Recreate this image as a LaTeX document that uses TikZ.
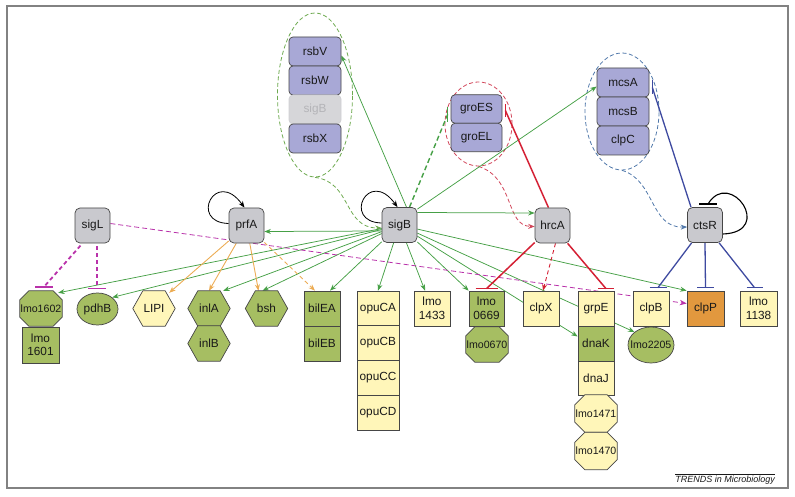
\documentclass[tikz,border=0pt]{standalone}
\usepackage{fontspec}
\setmainfont{Liberation Sans}
\usetikzlibrary{shapes.geometric,arrows.meta,calc}
\pgfdeclarelayer{bg}
\pgfsetlayers{bg,main}
\definecolor{cgray}{RGB}{201,201,206}
\definecolor{clav}{RGB}{168,168,214}
\definecolor{cgreen}{RGB}{166,190,98}
\definecolor{cyel}{RGB}{255,246,185}
\definecolor{corange}{RGB}{226,152,62}
\definecolor{cborder}{RGB}{70,70,70}
\definecolor{txt}{RGB}{25,25,25}
\definecolor{ghostfill}{RGB}{214,214,217}
\definecolor{ghostdraw}{RGB}{206,206,210}
\definecolor{ghosttext}{RGB}{180,180,184}
\definecolor{egreen}{RGB}{70,160,70}
\definecolor{eorange}{RGB}{236,172,84}
\definecolor{ered}{RGB}{212,32,52}
\definecolor{eblue}{RGB}{62,74,160}
\definecolor{epurple}{RGB}{185,50,170}
\definecolor{dgreen}{RGB}{110,170,80}
\definecolor{dred}{RGB}{210,70,90}
\definecolor{dblue}{RGB}{80,120,170}
\definecolor{framec}{RGB}{130,130,130}
\tikzset{
  lbl/.style={font=\fontsize{11.8}{13.5}\selectfont, text=txt, align=center, inner sep=0pt},
  small/.style={lbl, font=\fontsize{10.6}{12}\selectfont},
  base/.style={lbl, draw=cborder, line width=0.7pt},
  reg/.style={base, rectangle, fill=cgray, rounded corners=5pt, minimum width=35pt, minimum height=35pt},
  stk/.style={base, rectangle, fill=clav, rounded corners=4pt, minimum width=52pt, minimum height=29pt},
  ghost/.style={stk, fill=ghostfill, draw=ghostdraw, text=ghosttext},
  sqr/.style={base, rectangle, minimum width=36pt, minimum height=35pt},
  gsq/.style={sqr, fill=cgreen},
  ysq/.style={sqr, fill=cyel},
  osq/.style={sqr, fill=corange},
  ovl/.style={draw=cborder, line width=0.7pt, ellipse, fill=cgreen, inner sep=0pt},
  holder/.style={rectangle, inner sep=0pt, draw=none},
  shp/.style={draw=cborder, line width=0.7pt},
  frame/.style={draw=framec, line width=1.5pt},
  gact/.style={draw=egreen, line width=0.75pt, -{Stealth[length=6.5pt,width=5pt]}},
  oact/.style={draw=eorange, line width=0.9pt, -{Stealth[length=6.5pt,width=5pt]}},
  odash/.style={oact, dash pattern=on 4pt off 3pt},
  gdash/.style={draw=egreen, line width=1.4pt, dash pattern=on 5pt off 3pt},
  gbar/.style={draw=egreen, line width=1.4pt},
  pinh/.style={draw=epurple, line width=1.8pt, dash pattern=on 4pt off 3pt, shorten <=3pt},
  pbar/.style={draw=epurple, line width=1.4pt},
  pthin/.style={draw=epurple, line width=0.8pt, dash pattern=on 5pt off 3pt, -{Stealth[length=7pt,width=5.5pt]}},
  rinh/.style={draw=ered, line width=1.5pt},
  rbar/.style={draw=ered, line width=1.4pt},
  rdash/.style={draw=ered, line width=0.9pt, dash pattern=on 4pt off 3pt, -{Stealth[length=6.5pt,width=5pt]}},
  binh/.style={draw=eblue, line width=1.3pt},
  bbar/.style={draw=eblue, line width=1.3pt},
  loopa/.style={draw=black, line width=0.8pt, -{Stealth[length=6.5pt,width=5pt]}},
  loopl/.style={draw=black, line width=1.1pt},
  kbar/.style={draw=black, line width=1.3pt},
  grpell/.style={ellipse, draw, line width=0.8pt, dash pattern=on 4pt off 2.5pt, inner sep=0pt},
  dcurve/.style={line width=0.8pt, dash pattern=on 4pt off 2.5pt, -{Stealth[length=6.5pt,width=5pt]}},
}
\newcommand{\octnode}[8]{%
  \node[holder, minimum width=#4pt, minimum height=#5pt] (#1) at (#2,#3) {};
  \draw[shp, fill=#7] ([xshift=#6pt]#1.north west) -- ([xshift=-#6pt]#1.north east) -- ([yshift=-#6pt]#1.north east) -- ([yshift=#6pt]#1.south east) -- ([xshift=-#6pt]#1.south east) -- ([xshift=#6pt]#1.south west) -- ([yshift=#6pt]#1.south west) -- ([yshift=-#6pt]#1.north west) -- cycle;
  \node[small] at (#1) {#8};
}
\newcommand{\hexnode}[8]{%
  \node[holder, minimum width=#4pt, minimum height=#5pt] (#1) at (#2,#3) {};
  \draw[shp, fill=#7] ([xshift=#6pt]#1.north west) -- ([xshift=-#6pt]#1.north east) -- (#1.east) -- ([xshift=-#6pt]#1.south east) -- ([xshift=#6pt]#1.south west) -- (#1.west) -- cycle;
  \node[lbl] at (#1) {#8};
}
\begin{document}
\begin{tikzpicture}[x=1pt,y=-1pt]
\useasboundingbox (0,0) rectangle (795,497);
\draw[frame] (7,6) rectangle (788,488);

% regulators
\node[reg] (sigL) at (92.5,225.5) {sigL};
\node[reg] (prfA) at (246.5,225.5) {prfA};
\node[reg] (sigB) at (399.5,225) {sigB};
\node[reg] (hrcA) at (552.5,225.5) {hrcA};
\node[reg] (ctsR) at (705,225) {ctsR};

% upper complexes
\node[stk] (rsbV) at (315,51.5) {rsbV};
\node[stk] (rsbW) at (315,80.5) {rsbW};
\node[ghost] (sigBg) at (315,109.5) {sigB};
\node[stk] (rsbX) at (315,138.5) {rsbX};
\node[stk, minimum width=51pt, minimum height=28.5pt] (groES) at (476.5,109) {groES};
\node[stk, minimum width=51pt, minimum height=28.5pt] (groEL) at (476.5,137.5) {groEL};
\node[stk] (mcsA) at (623,82.5) {mcsA};
\node[stk] (mcsB) at (623,111.5) {mcsB};
\node[stk] (clpC) at (623,140.5) {clpC};

% target genes
\octnode{lmo1602}{41}{308.5}{42}{35}{9}{cgreen}{lmo1602}
\node[gsq, minimum width=37pt, minimum height=36pt] (lmo1601) at (40.5,345) {lmo\\1601};
\node[ovl, minimum width=41pt, minimum height=32pt] (pdhB) at (97.5,309) {};
\node[lbl] at (pdhB) {pdhB};
\hexnode{LIPI}{154}{308.5}{42}{35}{10}{cyel}{LIPI}
\hexnode{inlA}{209}{308.5}{42}{35}{10}{cgreen}{inlA}
\hexnode{inlB}{209}{343.5}{42}{35}{10}{cgreen}{inlB}
\hexnode{bsh}{266.5}{308.5}{42}{35}{10}{cgreen}{bsh}
\node[gsq] (bilEA) at (322,308.5) {bilEA};
\node[gsq] (bilEB) at (322,343.5) {bilEB};
\node[ysq, minimum width=42pt, minimum height=34.75pt] (opuCA) at (378,308.4) {opuCA};
\node[ysq, minimum width=42pt, minimum height=34.75pt] (opuCB) at (378,343.1) {opuCB};
\node[ysq, minimum width=42pt, minimum height=34.75pt] (opuCC) at (378,377.9) {opuCC};
\node[ysq, minimum width=42pt, minimum height=34.75pt] (opuCD) at (378,412.6) {opuCD};
\node[ysq] (lmo1433) at (432,308.5) {lmo\\1433};
\node[gsq, minimum width=35pt] (lmo0669) at (486.5,308.5) {lmo\\0669};
\octnode{lmo0670}{487}{344.5}{42}{35}{9}{cgreen}{lmo0670}
\node[ysq] (clpX) at (541,308.5) {clpX};
\node[ysq] (grpE) at (596,308.5) {grpE};
\node[gsq] (dnaK) at (596,343.5) {dnaK};
\node[ysq, minimum height=34pt] (dnaJ) at (596,378) {dnaJ};
\octnode{lmo1471}{596}{413.5}{42}{37}{10}{cyel}{lmo1471}
\octnode{lmo1470}{596}{451}{42}{37}{10}{cyel}{lmo1470}
\node[ysq] (clpB) at (651,308.5) {clpB};
\node[ovl, minimum width=46pt, minimum height=36pt] (lmo2205) at (651,345) {};
\node[small] at (lmo2205) {lmo2205};
\node[osq, minimum width=37pt] (clpP) at (705.5,308.5) {clpP};
\node[ysq, minimum width=37pt] (lmo1138) at (758.5,308.5) {lmo\\1138};

\node[font=\fontsize{9}{10}\selectfont\itshape, text=txt, inner sep=0pt, anchor=base east] (trends) at (775,482) {TRENDS in Microbiology};
\draw[draw=txt, line width=0.5pt] ([yshift=1.5pt]trends.north west) -- ([yshift=1.5pt]trends.north east);

\begin{pgfonlayer}{bg}
% complex outlines
\node[grpell, draw=dgreen, minimum width=75pt, minimum height=164pt] (rsbgrp) at (315,95) {};
\node[grpell, draw=dred, minimum width=67pt, minimum height=84pt] (grogrp) at (478.5,124) {};
\node[grpell, draw=dblue, minimum width=74pt, minimum height=117pt] (mcsgrp) at (622,111.5) {};
\draw[dcurve, draw=dgreen] (rsbgrp.south) .. controls (352,182) and (343,228) .. ([yshift=-3pt]sigB.west);
\draw[dcurve, draw=dred] (grogrp.south) .. controls (515,178) and (505,226) .. ([yshift=-1pt]hrcA.west);
\draw[dcurve, draw=dblue] (mcsgrp.south) .. controls (655,180) and (650,228) .. ([yshift=-2pt]ctsR.west);

% self loops
\draw[loopa] ([yshift=2pt]prfA.west) .. controls ($(prfA)+(-58,-3)$) and ($(prfA)+(-31,-58)$) .. ([xshift=-2pt]prfA.north);
\draw[loopa] ([yshift=2pt]sigB.west) .. controls ($(sigB)+(-58,-3)$) and ($(sigB)+(-31,-58)$) .. ([xshift=-2pt]sigB.north);
\coordinate (ctsRt) at ($(ctsR)+(3,-21)$);
\draw[loopl] ($(ctsR)+(18,9)$) .. controls ($(ctsR)+(70,7)$) and ($(ctsR)+(25,-57)$) .. (ctsRt);
\draw[kbar] ($(ctsRt)+(-9,0)$) -- ($(ctsRt)+(9,0)$);

% sigB activations
\draw[gact] ([yshift=-6pt]sigB.west) -- ([yshift=-6pt]prfA.east);
\draw[gact] ([yshift=12.5pt]sigB.east) -- ([yshift=12.5pt]hrcA.west);
\draw[gact] ([yshift=-2pt]sigB.north east) -- ([yshift=-4pt]mcsA.west);
\draw[gact] ([xshift=7pt]sigB.north) -- ([yshift=-4pt]rsbV.east);
\draw[gact] (sigB) -- ([xshift=-4pt,yshift=-2pt]lmo1602.north east);
\draw[gact] (sigB) -- (pdhB.north east);
\draw[gact] (sigB) -- ([xshift=-7pt]inlA.north east);
\draw[gact] (sigB) -- ([xshift=-4pt]bsh.north);
\draw[gact] (sigB) -- ([xshift=8pt]bilEA.north);
\draw[gact] (sigB) -- (opuCA.north);
\draw[gact] (sigB) -- ([xshift=-7pt]lmo1433.north);
\draw[gact] (sigB) -- (lmo0669.north west);
\draw[gact] (sigB) -- ([yshift=7pt]dnaK.west);
\draw[gact] (sigB) -- (lmo2205.north west);
\draw[gact] (sigB) -- (clpP.north west);
\coordinate (gesL) at ([xshift=-3pt,yshift=-5.5pt]groES.west);
\draw[gdash] ([xshift=10pt]sigB.north) -- (gesL);
\draw[gbar] ([yshift=7.5pt]gesL) -- ([yshift=-7.5pt]gesL);

% sigL
\coordinate (l1602t) at ([xshift=3pt,yshift=4pt]lmo1602.north);
\draw[pinh] ([xshift=-10pt]sigL.south) -- (l1602t);
\draw[pbar] ([xshift=-9pt]l1602t) -- ([xshift=9pt]l1602t);
\coordinate (pdhBt) at ([xshift=-0.5pt,yshift=4pt]pdhB.north);
\draw[pinh] (sigL.south -| pdhBt) -- (pdhBt);
\draw[pbar] ([xshift=-9pt]pdhBt) -- ([xshift=9pt]pdhBt);
\draw[pthin] ([yshift=2pt]sigL.east) -- ([yshift=5pt]clpP.west);

% prfA
\draw[oact] (prfA) -- ([xshift=-6pt,yshift=-2pt]LIPI.north east);
\draw[oact] (prfA) -- (inlA.north);
\draw[oact] (prfA) -- ([xshift=-8pt]bsh.north);
\draw[odash] (prfA) -- ([xshift=-7pt]bilEA.north);

% hrcA
\coordinate (groESr) at ([xshift=3pt,yshift=-1.5pt]groES.east);
\draw[rinh] ([xshift=-4pt]hrcA.north) -- (groESr);
\draw[rbar] ([yshift=6.5pt]groESr) -- ([yshift=-6.5pt]groESr);
\coordinate (l0669t) at ([yshift=2pt]lmo0669.north);
\draw[rinh] (hrcA) -- (l0669t);
\draw[rbar] ([xshift=-11pt]l0669t) -- ([xshift=11pt]l0669t);
\coordinate (grpEt) at ([xshift=10pt,yshift=2pt]grpE.north);
\draw[rinh] (hrcA) -- (grpEt);
\draw[rbar] ([xshift=-8pt]grpEt) -- ([xshift=8pt]grpEt);
\draw[rdash] ([xshift=3pt]hrcA.south) -- ([xshift=2pt]clpX.north);

% ctsR
\coordinate (mcsAr) at ([xshift=3pt,yshift=-5pt]mcsA.east);
\draw[binh] ([xshift=-14pt]ctsR.north) -- (mcsAr);
\draw[bbar] ([yshift=7pt]mcsAr) -- ([yshift=-7pt]mcsAr);
\coordinate (clpBt) at ([xshift=7pt,yshift=3pt]clpB.north);
\draw[binh] (ctsR) -- (clpBt);
\draw[bbar] ([xshift=-8.5pt]clpBt) -- ([xshift=8.5pt]clpBt);
\coordinate (clpPt) at ([yshift=3pt]clpP.north);
\draw[binh] (ctsR.south) -- (clpPt);
\draw[bbar] ([xshift=-8.5pt]clpPt) -- ([xshift=8.5pt]clpPt);
\coordinate (l1138t) at ([xshift=-4pt,yshift=3pt]lmo1138.north);
\draw[binh] (ctsR) -- (l1138t);
\draw[bbar] ([xshift=-8pt]l1138t) -- ([xshift=8pt]l1138t);
\end{pgfonlayer}
\end{tikzpicture}
\end{document}
